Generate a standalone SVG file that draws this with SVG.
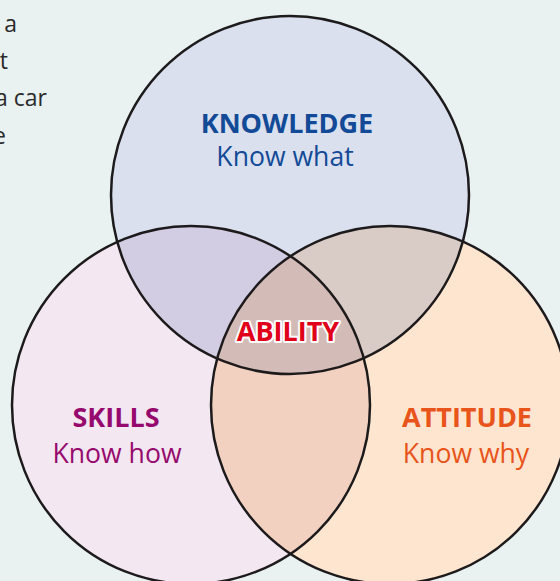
<svg xmlns="http://www.w3.org/2000/svg" width="560" height="581" viewBox="0 0 560 581">
  <style>
    .ring { fill: none; stroke: #1d1a1c; stroke-width: 2.5; }
    .title { font-family: "Open Sans", "Liberation Sans", sans-serif; font-weight: bold; font-size: 27px; text-anchor: middle; }
    .sub { font-family: "Open Sans", "Liberation Sans", sans-serif; font-size: 26.6px; text-anchor: middle; }
    .side { font-family: "Open Sans", "Liberation Sans", sans-serif; font-size: 23px; fill: #2b2b2b; text-anchor: end; }
  </style>
  <defs>
    <clipPath id="clipK"><circle cx="290" cy="195" r="179"/></clipPath>
    <clipPath id="clipS"><circle cx="191" cy="405" r="179"/></clipPath>
    <clipPath id="clipA"><circle cx="390" cy="405" r="179"/></clipPath>
  </defs>
  <rect x="0" y="0" width="560" height="581" fill="#e9f2f1"/>
  <g id="side-text">
    <text class="side" x="17" y="32">f a</text>
    <text class="side" x="8" y="69">t</text>
    <text class="side" x="47" y="106">a car</text>
    <text class="side" x="6" y="144">e</text>
  </g>
  <g id="fills">
    <circle cx="290" cy="195" r="179" fill="#dbe0ee"/>
    <circle cx="191" cy="405" r="179" fill="#f3e7f1"/>
    <circle cx="390" cy="405" r="179" fill="#fde5cf"/>
    <circle cx="191" cy="405" r="179" fill="#d2cde2" clip-path="url(#clipK)"/>
    <circle cx="390" cy="405" r="179" fill="#d9ccc6" clip-path="url(#clipK)"/>
    <circle cx="390" cy="405" r="179" fill="#f2d1c1" clip-path="url(#clipS)"/>
    <g clip-path="url(#clipK)">
      <circle cx="390" cy="405" r="179" fill="#d3bbb7" clip-path="url(#clipS)"/>
    </g>
  </g>
  <g id="connectors">
    <circle class="ring" cx="290" cy="195" r="179"/>
    <circle class="ring" cx="191" cy="405" r="179"/>
    <circle class="ring" cx="390" cy="405" r="179"/>
  </g>
  <g id="knowledge">
    <text class="title" x="287" y="133" fill="#124a97">KNOWLEDGE</text>
    <text class="sub" x="285" y="166" fill="#124a97">Know what</text>
  </g>
  <g id="skills">
    <text class="title" x="116" y="427" fill="#960a6e">SKILLS</text>
    <text class="sub" x="117" y="463" fill="#960a6e">Know how</text>
  </g>
  <g id="attitude">
    <text class="title" x="467" y="427" fill="#e8541a">ATTITUDE</text>
    <text class="sub" x="466" y="463" fill="#e8541a">Know why</text>
  </g>
  <g id="ability">
    <text class="title" x="288" y="341" fill="#e1001a" stroke="#ffffff" stroke-width="4" stroke-linejoin="round" paint-order="stroke">ABILITY</text>
  </g>
</svg>
